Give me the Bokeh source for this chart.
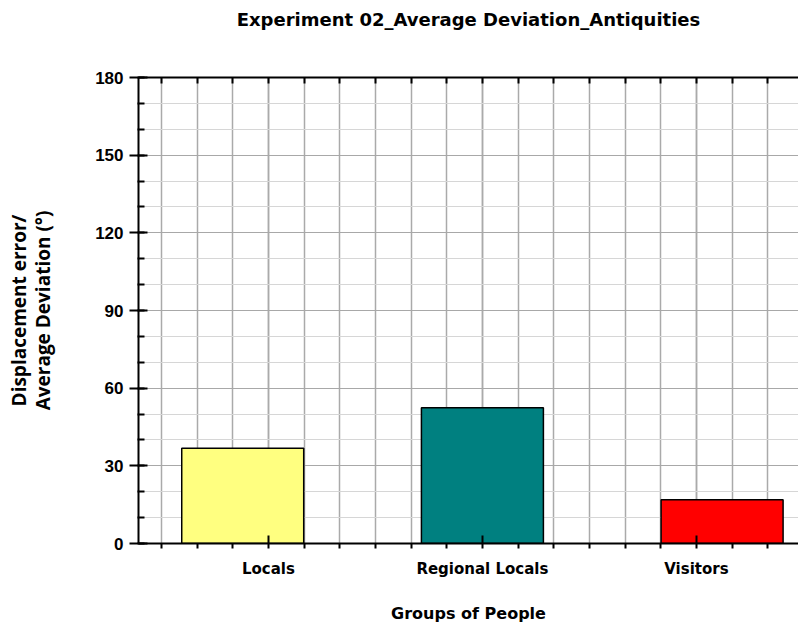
import numpy as np
from bokeh.plotting import figure
from bokeh.models import Range1d, FixedTicker, SingleIntervalTicker, LinearAxis, ColumnDataSource
from bokeh.embed import file_html
from bokeh.resources import INLINE

# ---- data ----
title_text = "Experiment 02_Average Deviation_Antiquities"
groups = ["Locals", "Regional Locals", "Visitors"]
deviation = [36.8, 52.4, 16.9]
bar_colors = ["#FFFF80", "#008080", "#FF0000"]

# ---- layout constants ----
group_pos = [1, 2, 3]
bar_pos = [0.88, 2.0, 3.12]
bar_width = 0.57

src = ColumnDataSource(dict(x=bar_pos, top=deviation, color=bar_colors, group=groups))

p = figure(width=798, height=630, x_range=Range1d(0.393, 3.477), y_range=Range1d(0, 180),
           output_backend="svg", toolbar_location=None,
           min_border_left=138, min_border_right=0, min_border_top=77, min_border_bottom=87)
p.outline_line_color = None
p.background_fill_color = "white"
p.border_fill_color = "white"
p.title.visible = False

minor_x = list(np.round(np.arange(0.5, 3.6, 1 / 6), 6))
xt = FixedTicker(ticks=group_pos, minor_ticks=minor_x)

xa = p.xaxis[0]
xa.ticker = xt
xa.major_label_overrides = {g: n for g, n in zip(group_pos, groups)}
xa.axis_line_width = 2
xa.axis_line_color = "black"
xa.major_tick_in = 8
xa.major_tick_out = 0
xa.minor_tick_in = 0
xa.minor_tick_out = 5
xa.major_tick_line_width = 2
xa.minor_tick_line_width = 2
xa.major_label_text_font = "DejaVu Sans"
xa.major_label_text_font_style = "bold"
xa.major_label_text_font_size = "15px"
xa.major_label_text_color = "black"
xa.major_label_standoff = 11
xa.axis_label = "Groups of People"
xa.axis_label_text_font = "DejaVu Sans"
xa.axis_label_text_font_style = "bold"
xa.axis_label_text_font_size = "16px"
xa.axis_label_text_color = "black"
xa.axis_label_standoff = 23

ya = p.yaxis[0]
ya.ticker = SingleIntervalTicker(interval=30, num_minor_ticks=3)
ya.axis_line_width = 2
ya.axis_line_color = "black"
ya.major_tick_in = 9
ya.major_tick_out = 9
ya.minor_tick_in = 6
ya.minor_tick_out = 1
ya.major_tick_line_width = 2
ya.minor_tick_line_width = 2
ya.major_label_text_font = "Liberation Sans"
ya.major_label_text_font_style = "bold"
ya.major_label_text_font_size = "17px"
ya.major_label_text_color = "black"
ya.major_label_standoff = 6
ya.axis_label = "Displacement error/\nAverage Deviation (°)"
ya.axis_label_text_font = "Open Sans"
ya.axis_label_text_font_style = "bold"
ya.axis_label_text_font_size = "19px"
ya.axis_label_text_color = "black"
ya.axis_label_text_line_height = 0.93
ya.axis_label_standoff = 36

# top frame axis, carrying the chart title as its label
top_ticker = FixedTicker(ticks=[], minor_ticks=minor_x)
top = LinearAxis(ticker=top_ticker,
                 axis_line_width=2, major_tick_in=8, major_tick_out=0,
                 minor_tick_in=6, minor_tick_out=0,
                 major_tick_line_width=2, minor_tick_line_width=2,
                 axis_label=title_text, axis_label_text_font="DejaVu Sans",
                 axis_label_text_font_style="bold", axis_label_text_font_size="18px",
                 axis_label_text_color="black", axis_label_standoff=48)
p.add_layout(top, "above")

p.xgrid.ticker = xt
p.xgrid.grid_line_color = "#aaaaaa"
p.xgrid.grid_line_width = 1.5
p.xgrid.minor_grid_line_color = "#aaaaaa"
p.xgrid.minor_grid_line_width = 1.5

p.ygrid.grid_line_color = "#a8a8a8"
p.ygrid.grid_line_width = 1.2
p.ygrid.minor_grid_line_color = "#d6d6d6"
p.ygrid.minor_grid_line_width = 1

p.vbar(x="x", top="top", width=bar_width, fill_color="color", line_color="black",
       line_width=1.5, source=src)

open("out.html", "w").write(file_html(p, INLINE))
